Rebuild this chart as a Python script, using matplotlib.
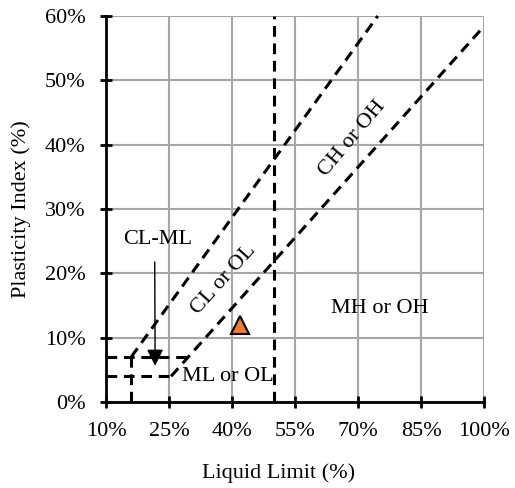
import matplotlib
matplotlib.use("Agg")
import matplotlib.pyplot as plt
from matplotlib.ticker import FuncFormatter

plt.rcParams['font.family'] = ['Liberation Serif', 'DejaVu Serif']

# Data
x_ticks = [10, 25, 40, 55, 70, 85, 100]
y_ticks = [0, 10, 20, 30, 40, 50, 60]
u_line_x = [16, 74.7]
u_line_y = [7, 60]
a_line_x = [25.5, 29.6, 100]
a_line_y = [4, 7, 58.4]
ll50_x = [50, 50]
ll50_y = [0, 60]
h7_x = [10, 29.6]
h7_y = [7, 7]
h4_x = [10, 25.5]
h4_y = [4, 4]
v16_x = [16, 16]
v16_y = [0, 7]
sample_ll = [42]
sample_pi = [12]

fig = plt.figure(figsize=(5.15, 4.88), dpi=100)
ax = fig.add_axes([106/515, 1-402/488, 378/515, 386/488])
ax.set_xlim(10, 100)
ax.set_ylim(0, 60)
ax.set_xticks(x_ticks)
ax.set_yticks(y_ticks)
fmt = FuncFormatter(lambda v, p: f"{int(v)}%")
ax.xaxis.set_major_formatter(fmt)
ax.yaxis.set_major_formatter(fmt)
ax.grid(True, color='#A6A6A6', linewidth=1.5, zorder=0)
ax.set_axisbelow(True)
for s in ['top', 'right']:
    ax.spines[s].set_visible(False)
for s in ['left', 'bottom']:
    ax.spines[s].set_linewidth(2)
    ax.spines[s].set_zorder(5)
ax.tick_params(direction='inout', length=9, width=2, labelsize=16, colors='black')
ax.tick_params(axis='x', pad=10)
ax.tick_params(axis='y', pad=10)

ls = dict(color='black', linewidth=2.2, linestyle=(0, (3.5, 2.2)), zorder=3, clip_on=False)
for xs, ys in [(u_line_x, u_line_y), (a_line_x, a_line_y), (ll50_x, ll50_y),
               (h7_x, h7_y), (h4_x, h4_y), (v16_x, v16_y)]:
    ax.plot(xs, ys, **ls)

ax.plot(sample_ll, sample_pi, marker='^', markersize=13, markerfacecolor='#ED7D31',
        markeredgecolor='black', markeredgewidth=1.5, linestyle='none', zorder=4)

ax.annotate('', xy=(21.7, 5.2), xytext=(21.6, 22.2),
            arrowprops=dict(arrowstyle='-|>,head_length=1.0,head_width=0.5', color='black', lw=1.0),
            zorder=4)
ax.text(22.4, 25.2, 'CL-ML', fontsize=16, ha='center', va='center')
ax.text(38.0, 19.0, 'CL or OL', fontsize=16, ha='center', va='center', rotation=48)
ax.text(68.6, 41.0, 'CH or OH', fontsize=16, ha='center', va='center', rotation=50)
ax.text(75.2, 14.6, 'MH or OH', fontsize=16, ha='center', va='center')
ax.text(28.0, 4.0, 'ML or OL', fontsize=16, ha='left', va='center')

ax.set_xlabel('Liquid Limit (%)', fontsize=16)
ax.xaxis.set_label_coords((279 - 106) / 378, (402 - 463) / 386)
ax.set_ylabel('Plasticity Index (%)', fontsize=16, labelpad=10)

fig.savefig('out.png', dpi=100)
